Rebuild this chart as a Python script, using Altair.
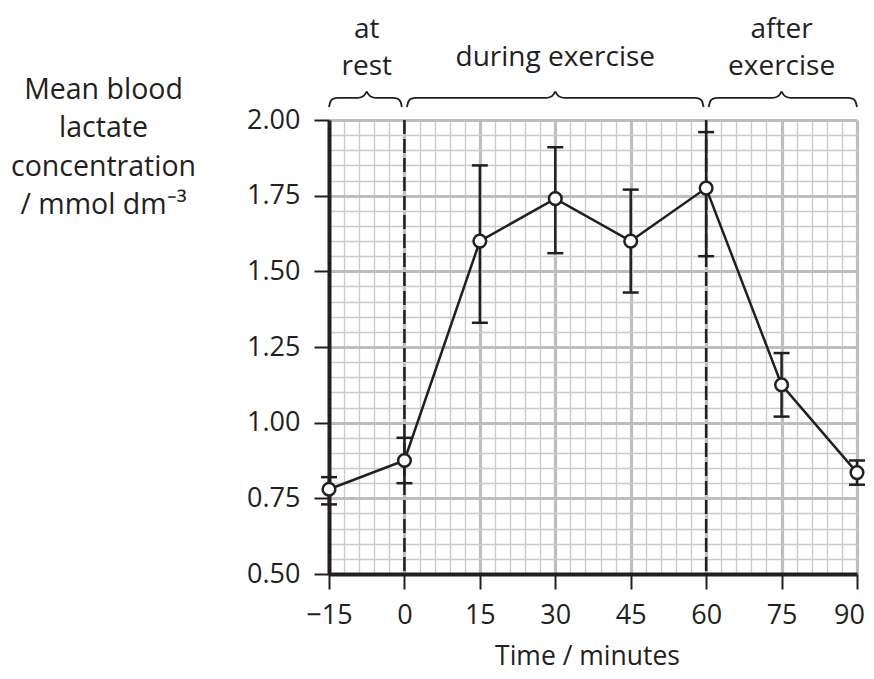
import altair as alt
import pandas as pd

# ---------------- data ----------------
times = [-15, 0, 15, 30, 45, 60, 75, 90]
means = [0.78, 0.875, 1.60, 1.74, 1.60, 1.775, 1.125, 0.835]
upper = [0.82, 0.95, 1.85, 1.91, 1.77, 1.96, 1.23, 0.875]
lower = [0.73, 0.80, 1.33, 1.56, 1.43, 1.55, 1.02, 0.795]

phase_names = ["at\nrest", "during exercise", "after\nexercise"]
phase_start = [-15, 0, 60]
phase_end = [0, 60, 90]
boundaries = [0, 60]

x_ticks = list(range(-15, 91, 3))
y_ticks = [round(0.5 + 0.05 * i, 2) for i in range(31)]

# ---------------- layout ----------------
PLOT_W, PLOT_H = 528, 454
X0, X1 = -15, 90
Y0, Y1 = 0.5, 2.0
PX_VAL = PLOT_H / (Y1 - Y0)
PX_MIN = PLOT_W / (X1 - X0)
FONT = "Open Sans"
INK = "#231f20"
MAJOR = "#bcbec0"
MINOR = "#c9cacc"


def above(px):
    return Y1 + px / PX_VAL


df = pd.DataFrame({"time": times, "mean": means, "upper": upper, "lower": lower})

# braces built from the phase ranges
rows = []
for i, (s, e) in enumerate(zip(phase_start, phase_end)):
    a = s + (0.5 if s != X0 else 0)
    b = e - (0.5 if e != X1 else 0)
    m = (s + e) / 2
    left = [(a, 13), (a + 1.5 / PX_MIN, 18.5), (a + 4 / PX_MIN, 21.2), (a + 9 / PX_MIN, 22.2),
            (m - 9 / PX_MIN, 22.2), (m - 4 / PX_MIN, 23.5), (m - 1.5 / PX_MIN, 26), (m, 28.5)]
    right = [(m, 28.5), (m + 1.5 / PX_MIN, 26), (m + 4 / PX_MIN, 23.5), (m + 9 / PX_MIN, 22.2),
             (b - 9 / PX_MIN, 22.2), (b - 4 / PX_MIN, 21.2), (b - 1.5 / PX_MIN, 18.5), (b, 13)]
    for k, (x, p) in enumerate(left):
        rows.append({"id": f"{i}L", "x": x, "y": above(p), "o": k})
    for k, (x, p) in enumerate(right):
        rows.append({"id": f"{i}R", "x": x, "y": above(p), "o": k})
brace_df = pd.DataFrame(rows)

label_df = pd.DataFrame({
    "text": phase_names,
    "x": [(s + e) / 2 for s, e in zip(phase_start, phase_end)],
    "y": [above(82) if "\n" in t else above(54) for t in phase_names],
})

bound_df = pd.DataFrame({"time": boundaries})

xs = alt.Scale(domain=[X0, X1], nice=False, zero=False)
ys = alt.Scale(domain=[Y0, Y1], nice=False, zero=False)

x15 = "datum.value % 15 === 0"
y25 = "abs(datum.value * 4 - round(datum.value * 4)) < 0.001"

x_axis = alt.Axis(
    values=x_ticks,
    labelExpr=f"{x15} ? datum.label : ''",
    labelFont=FONT, labelFontSize=27, labelColor=INK,
    labelBaseline="alphabetic", labelPadding=34,
    labelFlush=False, labelOverlap=False,
    labelOffset={"condition": {"test": f"datum.value === {X1}", "value": -8}, "value": 0},
    tickSize=15, tickWidth=2, tickColor=INK,
    tickOpacity={"condition": {"test": x15, "value": 1}, "value": 0},
    grid=True,
    gridColor={"condition": {"test": x15, "value": MAJOR}, "value": MINOR},
    gridWidth={"condition": {"test": x15, "value": 3.2}, "value": 1.3},
    domainColor=INK, domainWidth=4,
    title="Time / minutes",
    titleFont=FONT, titleFontSize=26.5, titleFontWeight="normal", titleColor=INK,
    titleX=258, titleY=90, titleAlign="center", titleBaseline="alphabetic",
)

y_axis = alt.Axis(
    values=y_ticks,
    labelExpr=f"{y25} ? format(datum.value, '.2f') : ''",
    labelFont=FONT, labelFontSize=27, labelColor=INK,
    labelBaseline="middle", labelPadding=14,
    labelFlush=False, labelOverlap=False,
    tickSize=15, tickWidth=2, tickColor=INK,
    tickOpacity={"condition": {"test": y25, "value": 1}, "value": 0},
    grid=True,
    gridColor={"condition": {"test": y25, "value": MAJOR}, "value": MINOR},
    gridWidth={"condition": {"test": y25, "value": 3.2}, "value": 1.3},
    domainColor=INK, domainWidth=4,
    title=["Mean blood", "lactate", "concentration", "/ mmol dm\u207b\u00b3"],
    titleFont=FONT, titleFontSize=28.5, titleFontWeight="normal", titleColor=INK,
    titleAngle=0, titleAlign="center", titleBaseline="alphabetic",
    titleX=-226, titleY=-22, titleLineHeight=38.5,
)


def X(field):
    return alt.X(field, scale=xs, axis=x_axis)


def Y(field):
    return alt.Y(field, scale=ys, axis=y_axis)


dashed = alt.Chart(bound_df).mark_rule(color=INK, strokeWidth=2.5, strokeDash=[14, 5]).encode(
    x=X("time:Q"),
)

bars = alt.Chart(df).mark_rule(color=INK, strokeWidth=2.5).encode(
    x=X("time:Q"),
    y=Y("lower:Q"),
    y2="upper:Q",
)

cap_hi = alt.Chart(df).mark_tick(color=INK, size=16, thickness=2.5, orient="horizontal", opacity=1).encode(
    x=X("time:Q"),
    y=Y("upper:Q"),
)
cap_lo = alt.Chart(df).mark_tick(color=INK, size=16, thickness=2.5, orient="horizontal", opacity=1).encode(
    x=X("time:Q"),
    y=Y("lower:Q"),
)

line = alt.Chart(df).mark_line(color=INK, strokeWidth=2.5).encode(
    x=X("time:Q"),
    y=Y("mean:Q"),
)

points = alt.Chart(df).mark_point(
    shape="circle", size=160, fill="white", stroke=INK, strokeWidth=2.5,
    opacity=1, fillOpacity=1,
).encode(
    x=X("time:Q"),
    y=Y("mean:Q"),
)

braces = alt.Chart(brace_df).mark_line(
    color=INK, strokeWidth=1.8, interpolate="monotone", clip=False
).encode(
    x=X("x:Q"),
    y=Y("y:Q"),
    detail="id:N",
    order="o:Q",
)

labels = alt.Chart(label_df).mark_text(
    font=FONT, fontSize=28, color=INK, align="center", baseline="alphabetic",
    lineBreak="\n", lineHeight=36.5,
).encode(
    x=X("x:Q"),
    y=Y("y:Q"),
    text="text:N",
)

chart = alt.layer(dashed, bars, cap_hi, cap_lo, line, points, braces, labels).properties(
    width=PLOT_W, height=PLOT_H,
    padding={"left": 321, "top": 112, "right": 9, "bottom": 97},
    autosize=alt.AutoSizeParams(type="none"),
).configure_view(stroke=None)

chart.save("out.html", embed_options={"renderer": "svg", "actions": False})
